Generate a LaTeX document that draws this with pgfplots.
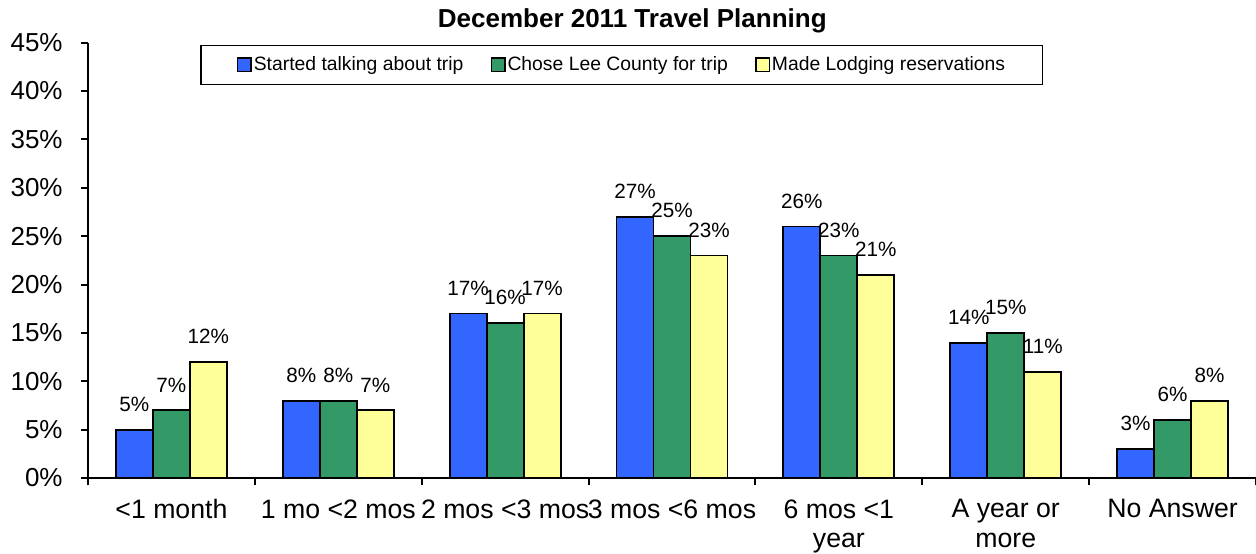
\documentclass[border=0pt]{standalone}
\usepackage{fontspec}
\setmainfont{Liberation Sans}
\usepackage{pgfplots}
\pgfplotsset{compat=1.18}
\definecolor{cblue}{HTML}{3366FF}
\definecolor{cgreen}{HTML}{339966}
\definecolor{cyellow}{HTML}{FFFF99}
\pgfplotsset{
  sqlegend/.style={legend image code/.code={\draw[##1, line width=1.1pt] (5.5pt,-5pt) rectangle (15.5pt,5pt);}}
}
\begin{document}
\begin{tikzpicture}
\begin{axis}[
  name=ax,
  scale only axis, width=876pt, height=326.5pt,
  ymin=0, ymax=45, xmin=-0.5, xmax=6.5,
  axis x line=bottom, axis y line=left,
  axis line style={-, line width=1.5pt},
  ytick={0,5,...,45},
  yticklabels={0\%,5\%,10\%,15\%,20\%,25\%,30\%,35\%,40\%,45\%},
  yticklabel style={font=\fontsize{19.5}{23}\selectfont, xshift=-10.5pt},
  xtick={0,...,6},
  xticklabels={{<1 month},{1 mo <2 mos},{2 mos <3 mos},{3 mos <6 mos},{6 mos <1\\year},{A year or\\more},{No Answer}},
  xticklabel style={align=center, font=\fontsize{20}{22}\selectfont, yshift=-7.5pt},
  major x tick style={draw=none},
  minor xtick={-0.5,0.5,...,6.5},
  tick align=outside, major tick length=5pt, minor tick length=5.5pt,
  tick style={line width=1.5pt, black},
  ybar=0pt, bar width=27.75pt,
  /pgf/number format/assume math mode=true,
  nodes near coords={\pgfmathprintnumber{\pgfplotspointmeta}\%},
  every node near coord/.append style={font=\fontsize{15.5}{18}\selectfont, yshift=9.5pt, black},
  title={\bfseries December 2011 Travel Planning},
  title style={font=\fontsize{19.5}{23}\selectfont, at={(0.466,1)}, anchor=base, yshift=5pt},
  legend style={at={(0.457,0.995)}, anchor=north, legend columns=3, draw=black, line width=0.8pt,
    font=\fontsize{14.5}{17}\selectfont, inner xsep=27pt, inner ysep=6.5pt,
    nodes={inner xsep=1pt},
    /tikz/every odd column/.append style={column sep=0.5pt},
    /tikz/every even column/.append style={column sep=19.5pt}},
]
\addplot[fill=cblue, draw=black, line width=1.4pt, sqlegend] coordinates {(0,5) (1,8) (2,17) (3,27) (4,26) (5,14) (6,3)};
\addplot[fill=cgreen, draw=black, line width=1.4pt, sqlegend] coordinates {(0,7) (1,8) (2,16) (3,25) (4,23) (5,15) (6,6)};
\addplot[fill=cyellow, draw=black, line width=1.4pt, sqlegend] coordinates {(0,12) (1,7) (2,17) (3,23) (4,21) (5,11) (6,8)};
\legend{Started talking about trip, Chose Lee County for trip, Made Lodging reservations}
\end{axis}
\pgfresetboundingbox
\path[use as bounding box] ([shift={(-66pt,-56.25pt)}]ax.south west) rectangle ([shift={(0pt,32pt)}]ax.north east);
\end{tikzpicture}
\end{document}
